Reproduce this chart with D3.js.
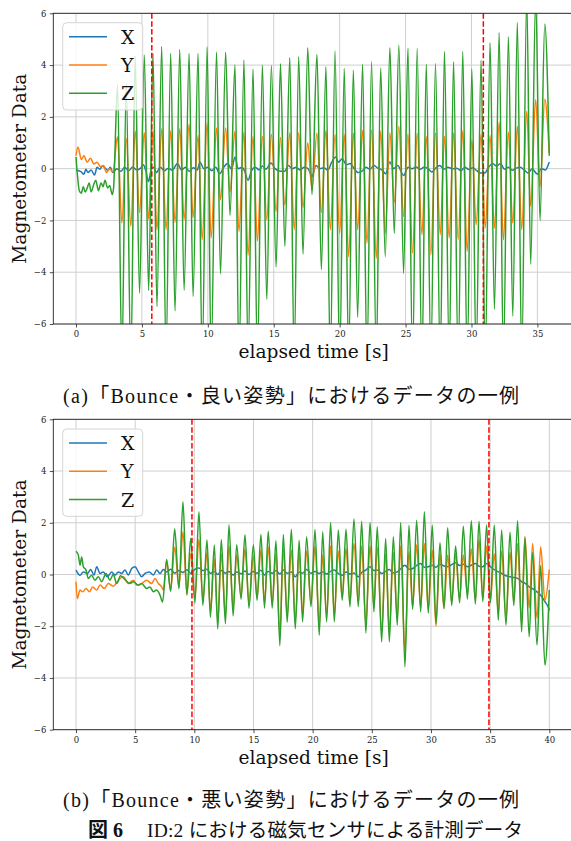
<!DOCTYPE html>
<html><head><meta charset="utf-8">
<script src="https://cdn.jsdelivr.net/npm/d3@7"></script>
<style>body{margin:0;background:#fff} svg{display:block}</style>
</head><body>
<svg id="c" width="571" height="841"></svg>
<script>
// ---------- shared ----------
const seriesNames = ["X", "Y", "Z"];
const seriesColors = ["#1f77b4", "#ff7f0e", "#2ca02c"];
const yTicks = [-6, -4, -2, 0, 2, 4, 6];
const xTicksA = [0, 5, 10, 15, 20, 25, 30, 35];
const xTicksB = [0, 5, 10, 15, 20, 25, 30, 35, 40];
const markersA = [5.75, 30.9];
const markersB = [9.8, 34.9];
const captionA = "(a)「Bounce・良い姿勢」におけるデータの一例";
const captionB = "(b)「Bounce・悪い姿勢」におけるデータの一例";
const figLabel = "図 6";
const figCaption = "ID:2 における磁気センサによる計測データ";
const xLabel = "elapsed time [s]";
const yLabel = "Magnetometer Data";

// ---------- panel (a) ----------
const aPeakT = [3.15,3.81,4.49,5.18,5.84,6.50,7.18,7.87,8.58,9.26,9.95,10.66,11.35,12.06,12.74,13.43,14.14,14.82,15.51,16.22,16.89,17.58,18.28,18.96,19.65,20.35,21.04,21.74,22.42,23.11,23.81,24.49,25.18,25.88,26.57,27.27,27.95,28.64,29.34,30.03,30.73,31.41,32.10,32.80,33.48,34.19,34.87,35.56];
const aTroughT = [3.48,4.16,4.82,5.51,6.14,6.83,7.51,8.2,8.88,9.57,10.25,10.96,11.68,12.36,13.05,13.76,14.47,15.18,15.84,16.55,17.22,17.9,18.61,19.29,20.0,20.68,21.36,22.07,22.78,23.46,24.14,24.85,25.53,26.24,26.92,27.63,28.31,28.99,29.67,30.35,31.04,31.74,32.42,33.13,33.81,34.49,35.2];
const aZPeak = [3.25,3.3,4.35,4.39,4.45,4.72,4.45,4.6,4.45,4.45,4.7,4.5,4.5,4.0,4.2,3.85,4.0,3.98,4.05,4.28,4.32,4.67,4.41,3.94,4.55,3.87,3.8,4.03,4.13,3.88,4.67,4.77,4.65,4.65,4.03,4.06,4.52,4.13,4.52,3.85,4.19,4.86,5.26,5.1,5.64,6.6,6.6,5.59];
const aZTrough = [-7.4,-7.6,-4.81,-4.71,-5.33,-7.3,-5.5,-4.7,-4.94,-7.5,-7.4,-4.06,-1.8,-7.6,-7.3,-7.5,-5.05,-3.8,-3.0,-7.4,-3.3,-1.0,-3.9,-7.5,-7.6,-7.3,-5.74,-7.5,-7.4,-3.4,-2.5,-4.04,-7.5,-7.6,-7.4,-7.5,-7.3,-7.6,-7.5,-7.4,-7.5,-5.43,-7.5,-5.7,-7.4,-3.7,-2.0];
const aYPeak = [1.23,1.16,1.46,1.4,1.48,1.55,1.46,1.55,1.72,1.29,1.77,1.57,1.57,1.45,1.42,1.25,1.25,1.33,1.2,1.4,1.39,1.0,1.38,1.48,1.32,1.33,1.39,1.48,1.5,1.45,1.39,1.64,1.35,1.38,1.25,1.39,1.25,1.39,1.46,1.12,1.33,1.29,1.8,1.42,1.65,2.22,2.67,2.68];
const aYTrough = [-2.1,-2.23,-1.7,-1.95,-2.36,-2.36,-2.08,-1.97,-1.9,-2.75,-2.68,-1.2,-0.9,-2.43,-3.35,-2.8,-1.97,-1.65,-1.4,-2.36,-1.5,-0.8,-1.7,-2.36,-2.5,-3.4,-2.36,-2.88,-3.46,-2.5,-1.3,-1.85,-3.26,-2.55,-3.33,-2.55,-2.68,-2.75,-3.2,-2.17,-2.3,-2.3,-2.75,-2.1,-2.36,-1.46,-0.7];
const aZPre = [[0,0.45],[0.1,-0.2],[0.25,-0.85],[0.4,-0.95],[0.55,-0.7],[0.7,-0.9],[0.85,-0.75],[1.0,-0.55],[1.15,-0.9],[1.35,-0.6],[1.5,-0.45],[1.7,-0.85],[1.9,-0.55],[2.05,-0.7],[2.2,-0.45],[2.4,-0.75],[2.55,-0.65],[2.75,-1.0],[2.85,-0.75]];
const aYPre = [[0,0.5],[0.15,0.84],[0.4,0.35],[0.6,0.5],[0.85,0.25],[1.1,0.4],[1.35,0.18],[1.6,0.25],[1.85,0.08],[2.1,0.12],[2.3,-0.15],[2.55,0.0],[2.8,-0.12]];
const aZEnd = [[35.9,0.5]];
const aYEnd = [[35.9,0.6]];
const aX = [[0,-0.05],[0.2,-0.08],[0.4,-0.12],[0.6,-0.22],[0.75,-0.02],[0.9,-0.15],[1.15,-0.05],[1.4,-0.25],[1.6,0.05],[1.8,-0.02],[2.0,0.1],[2.2,0.03],[2.4,-0.06],[2.6,0.05],[2.8,-0.15],[3.1,0.0],[3.4,-0.1],[3.7,0.05],[4.0,-0.08],[4.3,0.06],[4.6,-0.05],[4.9,0.02],[5.1,0.15],[5.3,-0.1],[5.5,-0.5],[5.7,-0.05],[5.9,0.05],[6.1,-0.15],[6.4,0.05],[6.7,-0.08],[7.0,0.02],[7.3,-0.06],[7.7,0.2],[8.0,-0.05],[8.3,0.05],[8.6,-0.1],[8.9,0.03],[9.2,-0.05],[9.4,0.25],[9.7,0.0],[10.0,0.05],[10.3,-0.08],[10.6,0.05],[10.9,-0.2],[11.2,0.05],[11.5,0.2],[11.8,-0.02],[12.06,0.45],[12.3,0.0],[12.6,0.05],[12.8,-0.1],[13.05,-0.45],[13.3,-0.1],[13.6,0.05],[13.9,-0.05],[14.14,0.1],[14.4,-0.02],[14.8,0.22],[15.1,0.0],[15.5,-0.1],[15.84,-0.1],[16.1,0.12],[16.4,0.0],[16.7,0.05],[17.0,-0.05],[17.3,0.05],[17.6,0.0],[17.9,-0.3],[18.2,0.12],[18.5,0.0],[18.8,0.03],[19.1,-0.05],[19.4,0.25],[19.7,0.45],[19.9,0.25],[20.2,0.38],[20.5,0.15],[20.8,0.2],[21.1,0.0],[21.4,-0.15],[21.7,-0.1],[22.0,0.05],[22.3,-0.02],[22.6,0.12],[22.9,0.02],[23.2,-0.05],[23.5,-0.2],[23.8,0.26],[24.1,0.0],[24.4,0.12],[24.85,-0.26],[25.2,0.05],[25.5,0.0],[25.8,0.06],[26.1,-0.02],[26.4,0.05],[26.7,0.0],[27.0,-0.13],[27.3,0.03],[27.6,0.12],[27.9,-0.02],[28.2,0.05],[28.6,0.0],[28.9,0.02],[29.2,-0.08],[29.5,0.05],[29.8,-0.03],[30.1,0.03],[30.4,-0.08],[30.7,-0.17],[31.0,-0.17],[31.3,0.05],[31.6,0.2],[31.9,0.1],[32.2,0.2],[32.5,-0.02],[32.8,0.05],[33.1,-0.06],[33.4,0.02],[33.7,0.05],[34.0,-0.05],[34.3,-0.17],[34.6,0.0],[35.0,-0.22],[35.3,0.0],[35.6,-0.05],[35.9,0.26]];

// ---------- panel (b) ----------
const bPeakT = [7.66,8.34,9.04,9.69,10.39,11.07,11.69,12.28,12.93,13.58,14.28,14.99,15.63,16.25,16.9,17.52,18.2,18.86,19.49,20.2,20.85,21.52,22.17,22.82,23.49,24.14,24.85,25.46,26.17,26.82,27.44,28.14,28.79,29.44,30.11,30.76,31.41,32.08,32.73,33.41,34.06,34.7,35.35,35.97,36.68,37.32,37.94,38.59,39.27];
const bTroughT = [8.0,8.7,9.37,10.05,10.72,11.36,11.98,12.63,13.28,13.95,14.62,15.3,15.93,16.58,17.23,17.85,18.53,19.15,19.86,20.56,21.18,21.83,22.5,23.15,23.86,24.5,25.18,25.83,26.48,27.15,27.8,28.45,29.13,29.77,30.42,31.1,31.75,32.42,33.08,33.75,34.38,35.02,35.69,36.34,37.0,37.66,38.3,38.96,39.63];
const bZPeak = [0.58,1.77,2.81,1.39,2.43,1.33,1.14,1.35,1.92,1.15,1.54,1.15,1.55,1.67,1.3,1.55,1.75,1.32,1.46,1.74,1.65,2.01,1.72,1.75,2.15,2.06,2.01,1.85,1.39,1.46,2.0,1.9,2.1,2.43,1.91,1.23,1.81,1.1,1.87,2.08,2.06,1.91,1.91,1.72,1.63,2.08,1.42,0.85,0.35];
const bZTrough = [-0.65,-0.55,-0.8,-1.1,-1.2,-1.65,-2.1,-1.9,-1.6,-0.95,-1.3,-1.0,-1.3,-1.3,-2.75,-1.85,-2.1,-1.83,-1.25,-2.35,-1.83,-1.83,-1.0,-1.25,-1.25,-2.26,-1.45,-2.6,-2.6,-1.96,-3.57,-1.35,-1.45,-1.5,-1.9,-1.32,-1.2,-1.1,-0.95,-1.15,-1.05,-1.1,-1.77,-1.96,-1.2,-2.22,-2.41,-2.73,-3.5];
const bYPeak = [0.5,1.05,1.65,0.8,1.35,0.85,0.6,0.8,1.1,0.75,1.0,0.7,0.95,1.05,0.8,1.0,0.95,0.85,0.9,1.1,0.75,1.1,0.9,1.0,1.2,1.1,1.1,1.05,0.8,0.85,1.1,0.9,1.15,1.2,0.95,0.8,0.75,0.8,0.75,1.0,1.35,1.1,0.8,0.9,0.85,1.2,1.48,1.2,1.07];
const bYTrough = [-0.6,-0.5,-0.75,-0.9,-1.0,-1.4,-1.8,-1.6,-1.3,-0.85,-1.1,-0.9,-1.1,-1.1,-2.3,-1.6,-1.8,-1.55,-1.1,-2.0,-1.6,-1.55,-0.9,-1.1,-1.1,-1.9,-1.25,-2.2,-2.2,-1.7,-3.0,-1.25,-1.3,-1.35,-2.0,-1.3,-1.05,-0.95,-0.74,-1.0,-0.95,-1.0,-1.5,-1.7,-1.05,-1.9,-1.3,-1.7,-1.0];
const bZPre = [[0,0.9],[0.2,0.75],[0.34,0.36],[0.48,0.68],[0.62,0.3],[0.85,0.17],[1.04,-0.15],[1.32,-0.03],[1.6,-0.22],[1.89,-0.09],[2.17,-0.28],[2.54,0.04],[2.87,-0.22],[3.15,0.0],[3.44,-0.35],[3.77,-0.05],[4.14,-0.2],[4.56,-0.35],[4.85,-0.28],[5.27,-0.41],[5.55,-0.35],[5.97,-0.54],[6.25,-0.48],[6.54,-0.67],[6.82,-0.6],[7.1,-0.8],[7.32,-1.06]];
const bYPre = [[0,-0.28],[0.11,-0.93],[0.34,-0.6],[0.56,-0.67],[0.85,-0.54],[1.13,-0.67],[1.41,-0.48],[1.75,-0.6],[2.03,-0.41],[2.37,-0.54],[2.73,-0.35],[3.15,-0.45],[3.58,-0.22],[4.0,-0.09],[4.42,-0.35],[4.85,-0.22],[5.13,-0.41],[5.55,-0.35],[5.97,-0.22],[6.39,-0.35],[6.68,-0.15],[6.96,-0.35],[7.24,-0.48],[7.38,-0.6]];
const bZEnd = [[40.0,-0.6]];
const bYEnd = [[40.0,0.19]];
const bX = [[0,0.17],[0.34,-0.03],[0.62,0.1],[0.96,0.04],[1.24,0.19],[1.52,-0.02],[1.75,0.3],[2.03,0.04],[2.31,0.1],[2.65,-0.09],[3.01,0.1],[3.3,-0.02],[3.58,0.1],[3.86,0.04],[4.14,0.17],[4.42,-0.02],[4.7,0.23],[4.99,0.3],[5.27,0.1],[5.55,-0.09],[5.83,0.04],[6.2,0.1],[6.54,-0.02],[6.82,0.17],[7.1,0.04],[7.38,0.19],[7.66,0.1],[8.0,0.2],[8.34,0.05],[8.7,0.15],[9.04,0.08],[9.37,0.18],[9.69,0.05],[10.05,0.2],[10.39,0.25],[10.72,0.15],[11.07,0.2],[11.36,0.05],[11.69,0.12],[11.98,0.0],[12.28,0.15],[12.63,0.05],[12.93,0.12],[13.28,-0.02],[13.58,0.1],[13.95,0.03],[14.28,0.14],[14.62,0.0],[14.99,0.12],[15.3,0.05],[15.63,0.16],[15.93,-0.02],[16.25,0.12],[16.58,0.05],[16.9,0.15],[17.23,0.02],[17.52,0.17],[17.85,0.05],[18.2,0.1],[18.53,-0.09],[18.86,0.1],[19.15,0.05],[19.49,0.19],[19.86,0.05],[20.2,0.12],[20.56,0.04],[20.85,0.1],[21.18,0.02],[21.52,0.12],[21.83,0.17],[22.17,0.04],[22.5,-0.03],[22.82,0.1],[23.15,0.02],[23.49,0.06],[23.86,-0.09],[24.14,0.08],[24.5,0.17],[24.85,0.3],[25.18,0.15],[25.46,0.17],[25.83,0.04],[26.17,0.12],[26.48,0.19],[26.82,0.06],[27.15,0.1],[27.44,0.22],[27.8,0.36],[28.14,0.2],[28.45,0.23],[28.79,0.35],[29.13,0.43],[29.44,0.28],[29.77,0.3],[30.11,0.36],[30.42,0.28],[30.76,0.4],[31.1,0.33],[31.41,0.3],[31.75,0.38],[32.08,0.45],[32.42,0.35],[32.73,0.4],[33.08,0.3],[33.41,0.36],[33.75,0.43],[34.06,0.32],[34.38,0.3],[34.7,0.43],[35.02,0.3],[35.35,0.19],[35.69,0.1],[36.0,0.04],[36.34,-0.05],[36.68,-0.09],[37.0,-0.12],[37.32,-0.15],[37.66,-0.28],[37.94,-0.33],[38.3,-0.48],[38.59,-0.55],[38.96,-0.67],[39.27,-0.8],[39.63,-1.05],[39.9,-1.25],[40.0,-1.38]];

// ---------- drawing ----------
const svg = d3.select("#c");
svg.append("rect").attr("width", 571).attr("height", 841).attr("fill", "#fff");
const defs = svg.append("defs");
const serif = "'DejaVu Serif', serif";

function interleave(pt, pv, tt, tv) {
  const out = [];
  for (let i = 0; i < pt.length; i++) {
    out.push([pt[i], pv[i]]);
    if (i < tt.length) out.push([tt[i], tv[i]]);
  }
  return out;
}

function panel(cfg) {
  const x = d3.scaleLinear().domain([0, cfg.xRef]).range([76, cfg.xRefPx]);
  const y = d3.scaleLinear().domain([-6, 6]).range([cfg.bottom, cfg.top]);
  const left = 53.3, right = 574;
  const g = svg.append("g");
  const clipId = "clip" + cfg.id;
  defs.append("clipPath").attr("id", clipId).append("rect")
    .attr("x", left).attr("y", cfg.top).attr("width", right - left).attr("height", cfg.bottom - cfg.top);

  // grid
  g.append("g").selectAll("line").data(cfg.xTicks).join("line")
    .attr("x1", d => x(d)).attr("x2", d => x(d)).attr("y1", cfg.top).attr("y2", cfg.bottom)
    .attr("stroke", "#cfcfcf").attr("stroke-width", 1);
  g.append("g").selectAll("line").data(yTicks).join("line")
    .attr("x1", left).attr("x2", right).attr("y1", d => y(d)).attr("y2", d => y(d))
    .attr("stroke", "#cfcfcf").attr("stroke-width", 1);

  const line = d3.line().x(d => x(d[0])).y(d => y(d[1])).curve(d3.curveMonotoneX);
  const lines = g.append("g").attr("clip-path", `url(#${clipId})`);
  cfg.series.forEach((s, i) => {
    lines.append("path").datum(s).attr("d", line).attr("fill", "none")
      .attr("stroke", seriesColors[i]).attr("stroke-width", 1.5).attr("stroke-linejoin", "round");
  });

  // markers
  g.append("g").selectAll("line").data(cfg.markers).join("line")
    .attr("x1", d => x(d)).attr("x2", d => x(d)).attr("y1", cfg.top).attr("y2", cfg.bottom)
    .attr("stroke", "#ff0000").attr("stroke-width", 1.5).attr("stroke-dasharray", "5.5,2.4");

  // axes
  const fmt = d3.format("d");
  const ax = g.append("g").attr("transform", `translate(0,${cfg.bottom})`)
    .call(d3.axisBottom(x).tickValues(cfg.xTicks).tickSize(3.5).tickPadding(3.5).tickFormat(fmt));
  const ay = g.append("g").attr("transform", `translate(${left},0)`)
    .call(d3.axisLeft(y).tickValues(yTicks).tickSize(3.5).tickPadding(3.5).tickFormat(fmt));
  [ax, ay].forEach(a => {
    a.select(".domain").remove();
    a.selectAll(".tick line").attr("stroke", "#222").attr("stroke-width", 0.8);
    a.selectAll(".tick text").attr("font-family", serif).attr("font-size", 8.5).attr("fill", "#222");
  });

  // spines
  g.append("rect").attr("x", left).attr("y", cfg.top).attr("width", right - left).attr("height", cfg.bottom - cfg.top)
    .attr("fill", "none").attr("stroke", "#222").attr("stroke-width", 0.9);

  // labels
  g.append("text").attr("x", (left + right) / 2).attr("y", cfg.bottom + 34)
    .attr("text-anchor", "middle").attr("font-family", serif).attr("font-size", 18.6).attr("fill", "#111")
    .text(xLabel);
  g.append("text").attr("transform", `translate(25.5,${(cfg.top + cfg.bottom) / 2}) rotate(-90)`)
    .attr("text-anchor", "middle").attr("font-family", serif).attr("font-size", 18.6).attr("fill", "#111")
    .text(yLabel);

  // legend
  const lg = g.append("g");
  lg.append("rect").attr("x", 62.7).attr("y", cfg.legendTop).attr("width", 80).attr("height", 87.3)
    .attr("rx", 4).attr("fill", "#fff").attr("fill-opacity", 0.8).attr("stroke", "#d5d5d5").attr("stroke-width", 1);
  seriesNames.forEach((n, i) => {
    const ly = cfg.legendTop + 14 + i * 28.3;
    lg.append("line").attr("x1", 69).attr("x2", 107).attr("y1", ly).attr("y2", ly)
      .attr("stroke", seriesColors[i]).attr("stroke-width", 1.5);
    lg.append("text").attr("x", 121).attr("y", ly + 7).attr("font-family", serif).attr("font-size", 19)
      .attr("fill", "#111").text(n);
  });
}

panel({
  id: "a", top: 13.3, bottom: 324, xRef: 35, xRefPx: 537.4, xTicks: xTicksA, markers: markersA, legendTop: 22.7,
  series: [
    aX,
    aYPre.concat(interleave(aPeakT, aYPeak, aTroughT, aYTrough), aYEnd),
    aZPre.concat(interleave(aPeakT, aZPeak, aTroughT, aZTrough), aZEnd)
  ]
});
panel({
  id: "b", top: 419.3, bottom: 729.7, xRef: 40, xRefPx: 549.3, xTicks: xTicksB, markers: markersB, legendTop: 429,
  series: [
    bX,
    bYPre.concat(interleave(bPeakT, bYPeak, bTroughT, bYTrough), bYEnd),
    bZPre.concat(interleave(bPeakT, bZPeak, bTroughT, bZTrough), bZEnd)
  ]
});

// captions
const capFont = "'Liberation Serif', 'Noto Sans CJK JP', serif";
svg.append("text").attr("x", 63).attr("y", 403).attr("font-family", capFont).attr("font-size", 20)
  .attr("textLength", 456).attr("lengthAdjust", "spacing").attr("fill", "#111").text(captionA);
svg.append("text").attr("x", 63).attr("y", 807).attr("font-family", capFont).attr("font-size", 20)
  .attr("textLength", 456).attr("lengthAdjust", "spacing").attr("fill", "#111").text(captionB);
svg.append("text").attr("x", 88).attr("y", 837).attr("font-family", capFont).attr("font-size", 20)
  .attr("font-weight", "bold").attr("fill", "#111").text(figLabel);
svg.append("text").attr("x", 147).attr("y", 837).attr("font-family", capFont).attr("font-size", 19.5)
  .attr("textLength", 376).attr("lengthAdjust", "spacing").attr("fill", "#111").text(figCaption);
</script>
</body></html>
